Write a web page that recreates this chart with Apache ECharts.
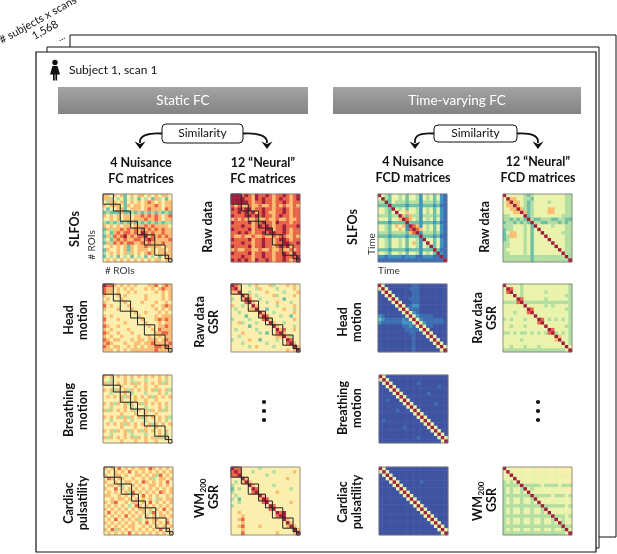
<!DOCTYPE html>
<html>
<head>
<meta charset="utf-8">
<title>Static and time-varying FC</title>
<script src="https://cdn.jsdelivr.net/npm/echarts@6/dist/echarts.min.js"></script>
<style>
  html, body { margin: 0; padding: 0; background: #fff; }
  #main { width: 617px; height: 554px; }
</style>
</head>
<body>
<div id="main"></div>
<script>
// colour levels 0..9 (low = blue, high = dark red)
var levelColors = ['#3e53a2', '#3d6db3', '#3f93bd', '#6ec1a6', '#b3dea2', '#eaf3ab',
                   '#fbefae', '#fbbd72', '#ea6448', '#a11f3d'];

// network boundaries (ROI index) for the boxes on the FC matrices
var networkEdges = [0, 3, 5, 8, 10, 12, 15, 18, 19, 20];

// ---- static FC matrices (20 x 20, one digit per cell) ----
var fcSlfo = [
  "77676 73676 77676 76776", "77464 63646 36463 74636", "64776 73676 76787 67677", "76777 63767 76777 87677",
  "63667 73677 76787 77687", "34333 73343 43434 34343", "76767 67767 78787 87678", "66767 67767 77877 87677",
  "43434 34373 43434 34344", "76767 67767 77878 77776", "37477 87878 78787 87877", "46378 78878 79878 77877",
  "37487 89787 88978 78787", "46378 78778 87898 77778", "37487 87887 78787 77877", "66767 67376 77877 77677",
  "37667 67376 77767 67767", "46767 67476 76787 67777", "36463 64636 46364 63677", "67676 76767 67676 77677"
];
var fcRaw = [
  "99989 87988 98788 98789", "99998 87989 88789 88789", "99999 87889 88788 98788", "87877 87787 78787 87787",
  "98989 97889 88788 98788", "88989 89789 87788 98788", "98889 98989 88789 88788", "78787 77877 87787 78778",
  "98888 97889 88798 88788", "88898 87898 98788 98889", "98888 97888 99788 98788", "88989 87889 89988 98788",
  "87787 78778 77878 87787", "98888 97889 88789 98788", "88898 87889 88788 99889", "98888 97889 88789 89788",
  "78778 87787 78778 77878", "98888 97889 88788 98798", "88898 87889 88788 98889", "98989 87988 98788 98789"
];
var fcHead = [
  "98876 76767 66677 86787", "87767 67676 66767 67877", "87767 66767 66666 76767", "76667 67666 66766 66767",
  "67666 76666 66766 66767", "76666 67666 67666 76676", "86766 66766 66667 66787", "76667 66676 66666 76767",
  "66666 66667 66766 67676", "76766 66666 76666 76777", "86667 66666 67666 78787", "76666 67666 66766 67677",
  "87667 66666 66676 67787", "76766 66766 66667 68777", "87667 66676 66666 77887", "76766 76666 76676 67677",
  "87677 66676 77677 76787", "78766 67667 76778 77778", "87677 66767 67677 88787", "77767 67677 77777 87777"
];
var fcBreath = [
  "76767 67676 76767 67676", "66466 67646 66466 67646", "74767 67674 76767 67476", "66666 76667 66766 76666",
  "76747 67476 76767 47674", "66466 67646 66466 67646", "67676 74767 67674 76767", "66666 76667 66766 76666",
  "76747 67476 74767 67676", "66466 67646 66466 67646", "74767 67674 76747 67476", "66666 76667 66766 76666",
  "76767 47476 74767 67674", "66466 67646 66466 67646", "67676 74767 67674 76767", "66666 76667 66766 76666",
  "76747 67476 74767 67676", "66466 67646 66466 67646", "74767 67674 76767 47476", "66666 76667 66766 76666"
];
var fcCardiac = [
  "76768 67676 77687 67676", "67676 76867 67676 76767", "76677 67667 76767 48676", "68767 76676 67674 67767",
  "76676 67767 68767 67686", "67767 46676 76677 67676", "76686 76767 67676 76767", "67676 67486 76767 68767",
  "77667 67676 68676 76676", "66767 76767 67676 47677", "76786 67677 67686 76767", "67676 76468 76767 67676",
  "76767 67676 77676 76867", "68676 76767 67648 67676", "76767 68676 76767 67767", "67686 76767 46767 76676",
  "76767 67676 76867 67686", "67676 76776 67676 76767", "76847 67676 76767 68676", "67676 76867 67676 76767"
];
var fcRawGsr = [
  "98766 46766 67466 67676", "89766 66476 66646 66676", "77966 46666 76666 46667", "66697 76466 66746 66676",
  "46679 86646 66666 36666", "66668 97666 46676 66466", "76646 69766 66646 66676", "64666 77966 36666 76646",
  "66466 66697 66466 66676", "66663 66679 86664 66366", "46666 46668 97666 66676", "66746 66466 69766 46666",
  "66666 36666 66976 66646", "64666 66466 66697 86676", "66676 66646 36689 76666", "66466 66666 66677 97466",
  "46666 76636 66646 69866", "66646 66666 46666 68976", "66666 46766 66466 66697", "66666 66666 66666 67679"
];
var fcWmGsr = [
  "98866 66646 66666 66666", "89866 64666 66466 66676", "88966 66666 46666 66666", "66697 66666 66666 67666",
  "64679 76666 66666 66666", "46666 97666 66466 66666", "36466 69866 66666 66466", "46666 68966 66676 66666",
  "64666 66697 66666 66666", "46366 66679 86666 66666", "66466 66668 96666 66766", "46666 66666 69866 66666",
  "66666 66666 68966 66666", "66766 66666 66698 96666", "66676 66666 66689 96666", "66786 66666 66666 97666",
  "66676 66666 66666 69766", "66786 66676 66666 67976", "66676 66666 66666 66697", "66686 66666 66676 66679"
];

// ---- time-varying FCD matrices ----
var fcdSlfo = [
  "95435 54535 54254 53521", "59435 54535 54254 53521", "44935 44434 44244 43421", "33393 33323 33233 32311",
  "55439 54535 54254 53521", "55435 95575 54254 53521", "44434 49737 44244 43421", "55535 57987 54254 53521",
  "33323 33393 33233 32311", "55435 75729 87254 53521", "55435 57528 98754 53521", "44434 44437 89244 43421",
  "33323 33323 33933 32311", "55435 54535 54295 53521", "55435 54535 74259 53521", "55435 54535 54254 93521",
  "33323 33323 33233 39311", "55435 54535 54254 53921", "22122 22122 21122 21191", "11111 11111 11111 11119"
];
var fcdRaw = [
  "95555 54345 55555 55544", "59775 54435 55555 55544", "57977 54345 55545 55544", "57797 54345 55555 55544",
  "55779 74345 55577 55544", "55577 97345 55577 55544", "44555 59345 55555 55444", "44343 43943 34443 34433",
  "34434 34394 43344 43434", "44455 54539 55554 55544", "34455 54535 95555 55544", "35775 54535 59555 55444",
  "34775 54535 55955 55544", "34555 54535 55595 55544", "44555 54535 55559 55544", "44555 54535 55555 95544",
  "45555 54535 55555 59544", "44555 54535 55555 55944", "44444 44434 44444 44494", "44444 44434 44444 44449"
];
var fcdHead = [
  "95000 00000 11000 00000", "59500 00001 11000 00000", "05950 00000 11000 00000", "00595 00000 11000 00000",
  "00059 50001 11000 00000", "00005 95000 11000 00000", "00000 59501 22000 00000", "00000 05951 11000 00000",
  "00000 00595 21000 00000", "21000 00059 52111 10000", "32111 11215 95211 11110", "21111 11222 59521 11110",
  "00000 00112 15951 10000", "00000 00011 11595 00000", "00000 00001 10059 50000", "00000 00000 10005 95000",
  "00000 00000 10000 59500", "00000 00000 10000 05950", "00000 00000 10000 00595", "00000 00000 10000 00059"
];
var fcdRawGsr = [
  "95555 45555 55555 55554", "59855 45555 55555 55554", "58955 45555 55455 55554", "55595 45555 65555 55544",
  "55559 85555 55455 55554", "44448 94444 44444 44444", "55555 59555 55454 55554", "55555 55985 55555 55544",
  "55545 55895 55555 55554", "55555 55559 55555 55554", "45455 54555 98545 45454", "55555 55555 89555 55554",
  "55455 54555 55955 55544", "55555 55555 55598 55554", "44545 44545 45489 45454", "55555 55555 55555 97554",
  "55555 45555 55555 79554", "55555 55555 55555 55954", "55455 54555 45555 55595", "44444 44444 44444 44459"
];
var fcdBreath = [
  "95000 00000 00000 00000", "59500 00000 00000 00000", "05950 00000 01000 00000", "00595 00000 00000 00100",
  "00059 50000 00000 00000", "00005 95000 00001 00000", "00000 59500 00000 00000", "00100 05950 00000 00000",
  "00000 00595 00000 01000", "00000 00059 50000 00000", "00000 10005 95000 00000", "00000 00000 59500 00000",
  "00000 00000 05950 00000", "01000 00000 00595 00000", "00000 00000 00059 50000", "00000 00100 00005 95000",
  "00000 00000 00000 59500", "00000 00000 00000 05950", "00000 00000 01000 00595", "00000 00000 00000 00059"
];
var fcdCardiac = [
  "95000 00000 00000 00000", "59500 00000 00000 00000", "05950 00000 00000 00000", "00595 00000 00000 00000",
  "00059 50000 00100 00000", "00005 95000 00000 00000", "00000 59500 00000 00000", "00000 05950 00000 00000",
  "00000 00595 00000 00000", "00000 00059 50000 00000", "00000 00005 95000 00000", "00000 00000 59500 00000",
  "00000 00000 05950 00000", "00000 00000 00595 00000", "00000 00000 00059 50000", "00000 00000 00005 95000",
  "00000 00000 00000 59500", "00000 00000 00000 05950", "00000 00000 00000 00595", "00000 00000 00000 00059"
];
var fcdWmGsr = [
  "95565 56655 65566 56666", "59565 56655 65566 56666", "55955 55555 55555 55555", "55595 56655 65566 56566",
  "45459 55655 65566 56566", "44444 94444 45444 45444", "45455 49545 55565 55566", "45455 45955 55565 55566",
  "44444 44494 44445 44454", "45455 45549 55565 55565", "45455 45545 95565 55565", "44444 44444 49444 44454",
  "45455 45545 54955 55565", "45455 45545 54595 55555", "44444 44444 44449 44454", "45455 45545 54554 95455",
  "45455 45545 54554 59455", "44444 44444 44444 44944", "45455 45545 54554 55495", "44444 44444 44444 44459"
];

// ---- layout ----
var MW = 69, MH = 68;
var rowTops = [194, 284, 375, 467];
var panels = [
  { rows: fcSlfo,    left: 103, top: rowTops[0], boxes: true },
  { rows: fcHead,    left: 103, top: rowTops[1], boxes: true },
  { rows: fcBreath,  left: 103, top: rowTops[2], boxes: true },
  { rows: fcCardiac, left: 104, top: rowTops[3], boxes: true },
  { rows: fcRaw,     left: 231, top: rowTops[0], boxes: true },
  { rows: fcRawGsr,  left: 231, top: rowTops[1], boxes: true },
  { rows: fcWmGsr,   left: 231, top: rowTops[3], boxes: true },
  { rows: fcdSlfo,   left: 378, top: rowTops[0] },
  { rows: fcdHead,   left: 378, top: rowTops[1] },
  { rows: fcdBreath, left: 379, top: rowTops[2] },
  { rows: fcdCardiac,left: 379, top: rowTops[3] },
  { rows: fcdRaw,    left: 503, top: rowTops[0] },
  { rows: fcdRawGsr, left: 503, top: rowTops[1] },
  { rows: fcdWmGsr,  left: 503, top: rowTops[3] }
];

function parseRows(rows) {
  var out = [];
  rows.forEach(function (r, y) {
    var s = r.replace(/ /g, '');
    for (var x = 0; x < s.length; x++) out.push([x, y, +s[x]]);
  });
  return out;
}

var cats = [];
for (var i = 0; i < 20; i++) cats.push(i);

var boxPairs = [];
for (var i = 0; i < networkEdges.length - 1; i++) boxPairs.push([networkEdges[i], networkEdges[i + 1]]);

function drawBox(params, api) {
  var a = api.value(0), b = api.value(1);
  var p0 = api.coord([a, a]);
  var p1 = api.coord([b - 1, b - 1]);
  var s = api.size([1, 1]);
  return {
    type: 'rect',
    shape: { x: p0[0] - s[0] / 2, y: p0[1] - s[1] / 2, width: p1[0] - p0[0] + s[0], height: p1[1] - p0[1] + s[1] },
    style: { fill: 'none', stroke: '#222', lineWidth: 1 }
  };
}

var grids = [], xAxes = [], yAxes = [], series = [], heatIdx = [], graphics = [];

// stacked pages
graphics.push({ type: 'rect', shape: { x: 70, y: 35, width: 546, height: 502 }, style: { fill: '#fff', stroke: '#111', lineWidth: 1 } });
graphics.push({ type: 'rect', shape: { x: 47, y: 47, width: 552, height: 501 }, style: { fill: '#fff', stroke: '#111', lineWidth: 1 } });
graphics.push({ type: 'rect', shape: { x: 36, y: 52, width: 560, height: 500 }, style: { fill: '#fff', stroke: '#111', lineWidth: 1.2 } });

panels.forEach(function (p, i) {
  grids.push({ left: p.left, top: p.top, width: MW, height: MH });
  xAxes.push({ type: 'category', gridIndex: i, data: cats, show: false });
  yAxes.push({ type: 'category', gridIndex: i, data: cats, inverse: true, show: false });
  series.push({
    type: 'heatmap', xAxisIndex: i, yAxisIndex: i, data: parseRows(p.rows),
    silent: true, progressive: 0, itemStyle: { borderWidth: 0 }
  });
  heatIdx.push(series.length - 1);
  if (p.boxes) {
    series.push({ type: 'custom', xAxisIndex: i, yAxisIndex: i, data: boxPairs, renderItem: drawBox, silent: true, z: 5 });
  }
  graphics.push({ type: 'rect', z: 100, shape: { x: p.left, y: p.top, width: MW, height: MH },
    style: { fill: 'none', stroke: '#7a7a7a', lineWidth: 0.8 } });
});

var FONT = 'Lato, "Open Sans", sans-serif';
function txt(x, y, s, opt) {
  opt = opt || {};
  return {
    type: 'text', x: x, y: y, rotation: opt.rot || 0, z: 100,
    style: {
      text: s, fill: opt.color || '#111', fontFamily: FONT, fontSize: opt.size || 12,
      fontWeight: opt.bold ? 'bold' : 'normal', textAlign: opt.align || 'center',
      textVerticalAlign: 'middle', lineHeight: opt.lh || 13
    }
  };
}
var UP = Math.PI / 2;

// stack annotation
var tilt = 29 * Math.PI / 180;
graphics.push(txt(38, 20, '# subjects x scans', { rot: tilt, size: 11 }));
graphics.push(txt(45, 30, '1,568', { rot: tilt, size: 11 }));
graphics.push(txt(61, 37, '...', { rot: tilt, size: 10 }));

// person icon + subject label
graphics.push({ type: 'circle', shape: { cx: 55, cy: 62.5, r: 2.7 }, style: { fill: '#111' } });
graphics.push({ type: 'polygon', shape: { points: [[52.5, 66], [57.5, 66], [60, 74.5], [50, 74.5]] }, style: { fill: '#111' } });
graphics.push({ type: 'rect', shape: { x: 53, y: 74, width: 1.7, height: 6.5 }, style: { fill: '#111' } });
graphics.push({ type: 'rect', shape: { x: 55.4, y: 74, width: 1.7, height: 6.5 }, style: { fill: '#111' } });
graphics.push(txt(69, 70, 'Subject 1, scan 1', { align: 'left', size: 12 }));

// section headers
var headFill = { type: 'linear', x: 0, y: 0, x2: 0, y2: 1,
  colorStops: [{ offset: 0, color: '#a4a4a4' }, { offset: 1, color: '#838383' }] };
graphics.push({ type: 'rect', shape: { x: 58, y: 87, width: 250, height: 27 }, style: { fill: headFill } });
graphics.push({ type: 'rect', shape: { x: 333, y: 87, width: 248, height: 27 }, style: { fill: headFill } });
graphics.push(txt(183, 100.5, 'Static FC', { color: '#fff', size: 13.5 }));
graphics.push(txt(457, 100.5, 'Time-varying FC', { color: '#fff', size: 13.5 }));

// similarity boxes with curved arrows
function similarity(x0, x1, y0, y1, lTip, rTip) {
  var cy = (y0 + y1) / 2;
  graphics.push({ type: 'bezierCurve', shape: { x1: x0, y1: cy, cpx1: x0 - 14, cpy1: cy - 1, cpx2: lTip - 1, cpy2: cy + 2, x2: lTip, y2: 143 },
    style: { stroke: '#111', lineWidth: 1.8, fill: 'none' } });
  graphics.push({ type: 'bezierCurve', shape: { x1: x1, y1: cy, cpx1: x1 + 14, cpy1: cy - 1, cpx2: rTip + 1, cpy2: cy + 2, x2: rTip, y2: 143 },
    style: { stroke: '#111', lineWidth: 1.8, fill: 'none' } });
  graphics.push({ type: 'polygon', shape: { points: [[lTip - 5.5, 141.5], [lTip, 149], [lTip + 5.5, 141.5], [lTip, 144]] }, style: { fill: '#111' } });
  graphics.push({ type: 'polygon', shape: { points: [[rTip - 5.5, 141.5], [rTip, 149], [rTip + 5.5, 141.5], [rTip, 144]] }, style: { fill: '#111' } });
  graphics.push({ type: 'rect', shape: { x: x0, y: y0, width: x1 - x0, height: y1 - y0, r: 4 }, style: { fill: '#fff', stroke: '#111', lineWidth: 1 } });
  graphics.push(txt((x0 + x1) / 2, cy, 'Similarity', { size: 12 }));
}
similarity(162, 243, 124, 143, 140, 267);
similarity(434, 517, 125, 142, 415, 538);

// column titles
graphics.push(txt(141, 171, '4 Nuisance\nFC matrices', { bold: true, lh: 16, size: 12.5 }));
graphics.push(txt(263, 171, '12 \u201cNeural\u201d\nFC matrices', { bold: true, lh: 16, size: 12.5 }));
graphics.push(txt(413, 170, '4 Nuisance\nFCD matrices', { bold: true, lh: 16, size: 12.5 }));
graphics.push(txt(538, 170, '12 \u201cNeural\u201d\nFCD matrices', { bold: true, lh: 16, size: 12.5 }));

// row labels
var B = { bold: true, rot: UP, size: 12.5, lh: 13.5 };
graphics.push(txt(75, 229, 'SLFOs', B));
graphics.push(txt(76, 320, 'Head\nmotion', B));
graphics.push(txt(76, 410, 'Breathing\nmotion', B));
graphics.push(txt(76, 503, 'Cardiac\npulsatility', B));
graphics.push(txt(208, 227, 'Raw data', B));
graphics.push(txt(207, 322, 'Raw data\nGSR', B));
graphics.push(txt(353, 227, 'SLFOs', B));
graphics.push(txt(350, 322, 'Head\nmotion', B));
graphics.push(txt(350, 408, 'Breathing\nmotion', B));
graphics.push(txt(350, 502, 'Cardiac\npulsatility', B));
graphics.push(txt(485, 227, 'Raw data', B));
graphics.push(txt(485, 318, 'Raw data\nGSR', B));

function wmLabel(cx, cy) {
  graphics.push({
    type: 'group', x: cx, y: cy, rotation: UP, z: 100,
    children: [
      { type: 'text', x: 4, y: -7, style: { text: 'WM', fontFamily: FONT, fontSize: 12.5, fontWeight: 'bold', fill: '#111', textAlign: 'right', textVerticalAlign: 'middle' } },
      { type: 'text', x: 4.5, y: -4, style: { text: '200', fontFamily: FONT, fontSize: 8, fontWeight: 'bold', fill: '#111', textAlign: 'left', textVerticalAlign: 'middle' } },
      { type: 'text', x: 0, y: 7, style: { text: 'GSR', fontFamily: FONT, fontSize: 12.5, fontWeight: 'bold', fill: '#111', textAlign: 'center', textVerticalAlign: 'middle' } }
    ]
  });
}
wmLabel(207, 497);
wmLabel(485, 500);

// axis hints
graphics.push(txt(92, 245, '# ROIs', { rot: UP, size: 10, color: '#333' }));
graphics.push(txt(105, 271, '# ROIs', { align: 'left', size: 10, color: '#333' }));
graphics.push(txt(372, 244, 'Time', { rot: UP, size: 10, color: '#333' }));
graphics.push(txt(378, 271, 'Time', { align: 'left', size: 10, color: '#333' }));

// ellipsis dots
[264, 538].forEach(function (x) {
  [402, 411, 420].forEach(function (y) {
    graphics.push({ type: 'circle', shape: { cx: x, cy: y, r: 2.1 }, style: { fill: '#111' } });
  });
});

var myChart = echarts.init(document.getElementById('main'));
myChart.setOption({
  backgroundColor: '#fff',
  animation: false,
  grid: grids,
  xAxis: xAxes,
  yAxis: yAxes,
  visualMap: {
    type: 'continuous', min: 0, max: 9, show: false, seriesIndex: heatIdx,
    inRange: { color: levelColors }
  },
  graphic: { elements: graphics },
  series: series
});
</script>
</body>
</html>
